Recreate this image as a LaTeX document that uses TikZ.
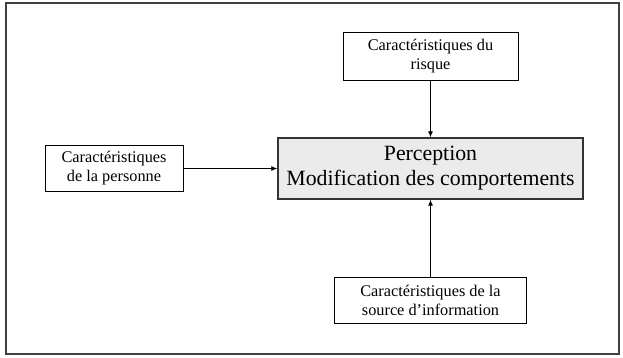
\documentclass[tikz,border=0pt]{standalone}
\usepackage{fontspec}
\setmainfont{Liberation Serif}
\usetikzlibrary{arrows.meta}
\begin{document}
\begin{tikzpicture}[x=1pt,y=1pt,
  smallbox/.style={draw=black, line width=0.9pt, fill=white, align=center, inner sep=0pt,
    font=\fontsize{16.3}{19}\selectfont},
  mainbox/.style={draw=black!80, line width=1.4pt, fill=black!8, align=center, inner sep=0pt,
    font=\fontsize{21.8}{25}\selectfont},
  link/.style={line width=0.8pt, -{Latex[length=6pt,width=5pt]}}]
\useasboundingbox (0,0) rectangle (623,357);
\draw[line width=1.8pt, black!75] (6,3) rectangle (619,354);
\node[mainbox, minimum width=305pt, minimum height=61pt] (main) at (430.5,188.5)
  {Perception\\Modification des comportements};
\node[smallbox, minimum width=175pt, minimum height=48pt] (risk) at (430.5,301)
  {Caractéristiques du\\risque};
\node[smallbox, minimum width=138pt, minimum height=46pt] (pers) at (114,188.5)
  {Caractéristiques\\de la personne};
\node[smallbox, minimum width=192pt, minimum height=46pt] (src) at (430.5,57)
  {Caractéristiques de la\\source d’information};
\draw[link] (risk) -- (main);
\draw[link] (pers) -- (main);
\draw[link] (src) -- (main);
\end{tikzpicture}
\end{document}
